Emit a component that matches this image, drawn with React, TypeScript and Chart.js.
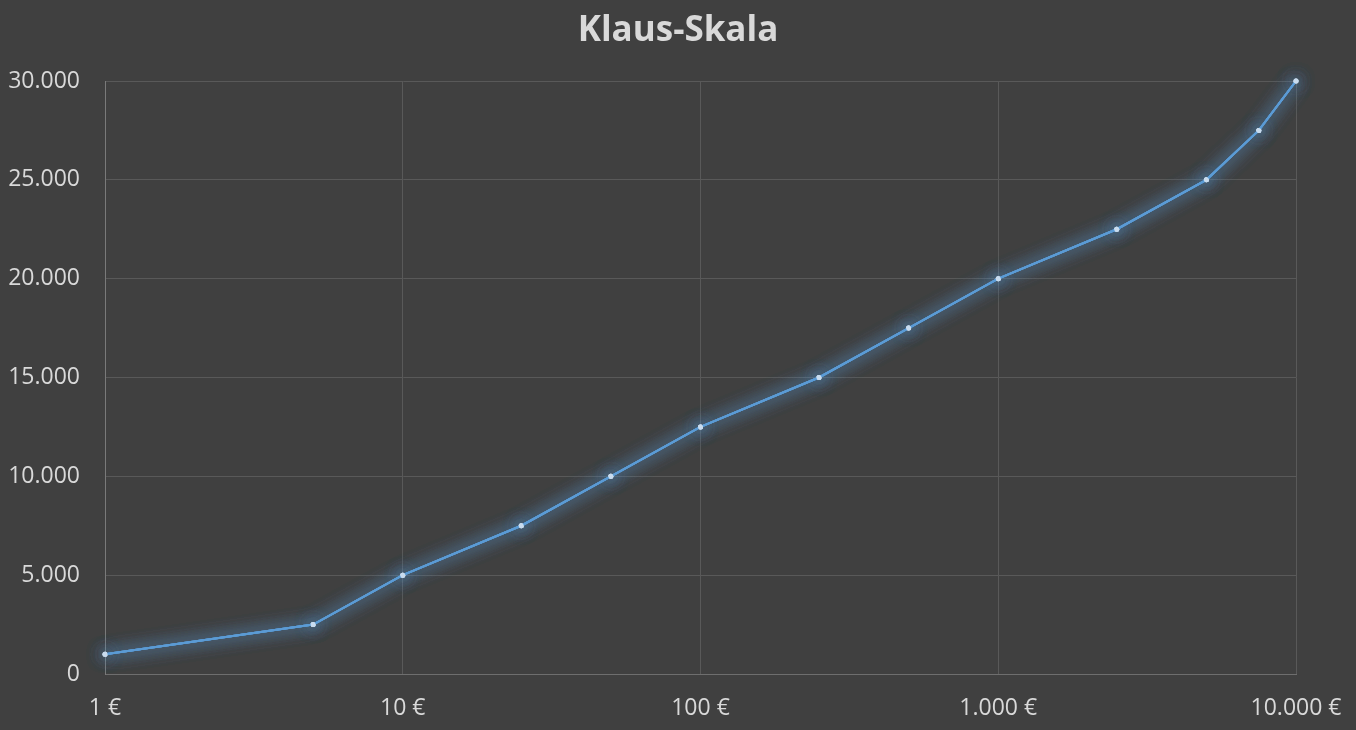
import { useEffect, useRef } from "react";
import { Chart, registerables, type Plugin } from "chart.js";

Chart.register(...registerables);

const amounts = [1, 5, 10, 25, 50, 100, 250, 500, 1000, 2500, 5000, 7500, 10000];
const points = [1000, 2500, 5000, 7500, 10000, 12500, 15000, 17500, 20000, 22500, 25000, 27500, 30000];
const xTicks = [1, 10, 100, 1000, 10000];
const yTicks = [0, 5000, 10000, 15000, 20000, 25000, 30000];

const fmt = (v: number) => v.toLocaleString("de-DE");

// soft blue halo around the line, like the Excel glow effect
const glow: Plugin<"line"> = {
  id: "glow",
  beforeDatasetDraw(chart, args) {
    const ctx = chart.ctx;
    const meta = args.meta;
    ctx.save();
    ctx.shadowColor = "rgba(91,155,213,0.9)";
    ctx.shadowBlur = 16;
    for (let i = 0; i < 3; i++) {
      meta.dataset?.draw(ctx, chart.chartArea);
      meta.data.forEach((p) => p.draw(ctx, chart.chartArea));
    }
    ctx.restore();
  },
};

const bg: Plugin<"line"> = {
  id: "bg",
  beforeDraw(chart) {
    const ctx = chart.ctx;
    ctx.save();
    ctx.fillStyle = "#404040";
    ctx.fillRect(0, 0, chart.width, chart.height);
    ctx.restore();
  },
};

export default function App() {
  const canvasRef = useRef<HTMLCanvasElement>(null);

  useEffect(() => {
    if (!canvasRef.current) return;
    const font = "'Open Sans', sans-serif";
    const chart = new Chart(canvasRef.current, {
      type: "line",
      data: {
        datasets: [
          {
            data: amounts.map((x, i) => ({ x, y: points[i] })),
            borderColor: "#5b9bd5",
            borderWidth: 2,
            pointRadius: 2.5,
            pointBackgroundColor: "#c9dcef",
            pointBorderWidth: 0,
            tension: 0,
          },
        ],
      },
      options: {
        animation: false,
        responsive: true,
        maintainAspectRatio: false,
        layout: { padding: 0 },
        plugins: {
          legend: { display: false },
          tooltip: { enabled: false },
          title: {
            display: true,
            text: "Klaus-Skala",
            color: "#d9d9d9",
            font: { family: font, size: 35, weight: "bold" },
            padding: { top: 10, bottom: 29 },
          },
        },
        scales: {
          x: {
            type: "logarithmic",
            min: 1,
            max: 10000,
            afterBuildTicks: (scale) => {
              scale.ticks = xTicks.map((value) => ({ value }));
            },
            afterFit: (scale) => {
              scale.height = 56;
              scale.paddingLeft = 0;
              scale.paddingRight = 0;
            },
            grid: { color: "#595959", drawTicks: false },
            border: { color: "#6e6e6e" },
            ticks: {
              color: "#d9d9d9",
              padding: 21,
              maxRotation: 0,
              autoSkip: false,
              font: { family: font, size: 23 },
              callback: (v) => `${fmt(Number(v))} €`,
            },
          },
          y: {
            min: 0,
            max: 30000,
            afterBuildTicks: (scale) => {
              scale.ticks = yTicks.map((value) => ({ value }));
            },
            afterFit: (scale) => {
              scale.width = 105;
              scale.paddingTop = 0;
              scale.paddingBottom = 0;
            },
            grid: { color: "#595959", drawTicks: false },
            border: { color: "#7a7a7a" },
            ticks: {
              color: "#d9d9d9",
              padding: 25,
              font: { family: font, size: 23 },
              callback: (v) => fmt(Number(v)),
            },
          },
          // empty right-hand gutter so the title stays centred on the canvas
          gutter: {
            position: "right",
            display: true,
            min: 0,
            max: 1,
            grid: { display: false },
            border: { display: false },
            ticks: { display: false },
            afterFit: (scale) => {
              scale.width = 60;
            },
          },
        },
      },
      plugins: [bg, glow],
    });
    return () => chart.destroy();
  }, []);

  return (
    <div style={{ position: "fixed", inset: 0, background: "#404040" }}>
      <canvas ref={canvasRef} />
    </div>
  );
}
